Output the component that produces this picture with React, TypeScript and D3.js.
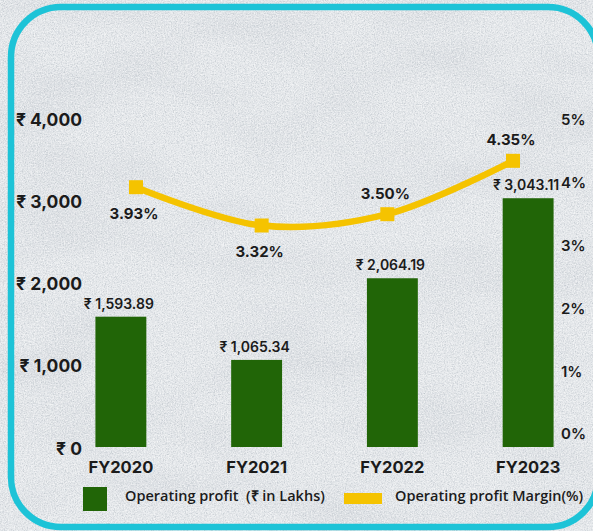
import * as React from 'react';
import * as d3 from 'd3';

const years = ['FY2020', 'FY2021', 'FY2022', 'FY2023'];
const profit = [1593.89, 1065.34, 2064.19, 3043.11];
const margin = [3.93, 3.32, 3.5, 4.35];
const marginLabelSide = ['below', 'below', 'above', 'above'];
const profitTicks = [0, 1000, 2000, 3000, 4000];
const marginTicks = [0, 1, 2, 3, 4, 5];
const legendLabels = ['Operating profit  (₹ in Lakhs)', 'Operating profit Margin(%)'];

const W = 593;
const H = 531;
const GREEN = '#216507';
const YELLOW = '#f5c300';
const CYAN = '#1dc3d7';
const INK = '#1b1b1b';
const FONT = 'Inter, "Noto Sans", sans-serif';

export default function App() {
  const y = d3.scaleLinear().domain([0, 4000]).range([447, 120]);
  const yR = d3.scaleLinear().domain([0, 5]).range([434, 120]);
  const xBand = d3
    .scaleBand<string>()
    .domain(years)
    .range([53, 596])
    .paddingInner(0.625)
    .paddingOuter(0.3125);
  const xLine = d3.scalePoint<string>().domain(years).range([136, 513]);

  const rupee = (v: number) => '₹ ' + d3.format(',')(v);
  const rupee2 = (v: number) => '₹ ' + d3.format(',.2f')(v);
  const pct = (v: number) => d3.format('.2f')(v) + '%';

  const linePath = d3
    .line<number>()
    .x((_, i) => xLine(years[i]) as number)
    .y((d) => yR(d))
    .curve(d3.curveCatmullRom.alpha(0.5))(margin) as string;

  const bw = xBand.bandwidth();

  return (
    <div style={{ position: 'absolute', left: 0, top: 0 }}>
      <svg width={W} height={H} style={{ display: 'block' }}>
        <defs>
          <filter id="specks" x="0" y="0" width="100%" height="100%">
            <feTurbulence type="fractalNoise" baseFrequency="0.9" numOctaves="3" seed="4" />
            <feColorMatrix
              type="matrix"
              values="0 0 0 0 0.52  0 0 0 0 0.56  0 0 0 0 0.60  1.8 0 0 0 -0.72"
            />
          </filter>
          <filter id="highlights" x="0" y="0" width="100%" height="100%">
            <feTurbulence type="fractalNoise" baseFrequency="0.7" numOctaves="2" seed="11" />
            <feColorMatrix
              type="matrix"
              values="0 0 0 0 1  0 0 0 0 1  0 0 0 0 1  2 0 0 0 -0.75"
            />
          </filter>
          <filter id="blotches" x="0" y="0" width="100%" height="100%">
            <feTurbulence type="fractalNoise" baseFrequency="0.008 0.02" numOctaves="2" seed="7" />
            <feColorMatrix
              type="matrix"
              values="0 0 0 0 0.6  0 0 0 0 0.63  0 0 0 0 0.67  1.2 0 0 0 -0.5"
            />
          </filter>
        </defs>

        {/* textured wall background */}
        <rect width={W} height={H} fill="#e5e8eb" />
        <rect width={W} height={H} filter="url(#blotches)" />
        <rect width={W} height={H} filter="url(#specks)" />
        <rect width={W} height={H} filter="url(#highlights)" opacity={0.7} />

        {/* frame */}
        <rect x={11} y={7} width={587} height={520} rx={50} fill="none" stroke={CYAN} strokeWidth={6.5} />

        {/* left axis */}
        <g fontFamily={FONT} fontWeight={700} fontSize={17.5} fill={INK} textAnchor="end">
          {profitTicks.map((t) => (
            <text key={t} x={82} y={y(t) + (t === 0 ? 2 : 0)} dy="0.36em">
              {rupee(t)}
            </text>
          ))}
        </g>

        {/* right axis */}
        <g fontFamily={FONT} fontWeight={600} fontSize={15} fill={INK} textAnchor="start">
          {marginTicks.map((t) => (
            <text key={t} x={561} y={yR(t)} dy="0.36em">
              {t + '%'}
            </text>
          ))}
        </g>

        {/* bars */}
        {profit.map((v, i) => (
          <g key={years[i]}>
            <rect x={xBand(years[i])} y={y(v)} width={bw} height={y(0) - y(v)} fill={GREEN} />
            <text
              x={(xBand(years[i]) as number) + bw / 2 - 2}
              y={y(v) - 13}
              dy="0.36em"
              textAnchor="middle"
              fontFamily={FONT}
              fontWeight={600}
              fontSize={14}
              fill={INK}
            >
              {rupee2(v)}
            </text>
          </g>
        ))}

        {/* category labels */}
        <g fontFamily={FONT} fontWeight={700} fontSize={16.5} fill={INK} textAnchor="middle">
          {years.map((yr) => (
            <text key={yr} x={(xBand(yr) as number) + bw / 2} y={467} dy="0.36em">
              {yr}
            </text>
          ))}
        </g>

        {/* margin line */}
        <path d={linePath} fill="none" stroke={YELLOW} strokeWidth={6.5} strokeLinecap="round" />
        {margin.map((m, i) => (
          <g key={'m' + i}>
            <rect
              x={(xLine(years[i]) as number) - 7}
              y={yR(m) - 7}
              width={14}
              height={14}
              fill={YELLOW}
            />
            <text
              x={(xLine(years[i]) as number) - 2}
              y={yR(m) + (marginLabelSide[i] === 'below' ? 26 : -21)}
              dy="0.36em"
              textAnchor="middle"
              fontFamily={FONT}
              fontWeight={700}
              fontSize={15}
              fill={INK}
            >
              {pct(m)}
            </text>
          </g>
        ))}

        {/* legend */}
        <g fontFamily='"Open Sans", sans-serif' fontWeight={600} fontSize={14.5} fill={INK}>
          <rect x={83} y={487} width={24} height={24} fill={GREEN} />
          <text x={125} y={496} dy="0.36em" xmlSpace="preserve" style={{ whiteSpace: 'pre' }}>
            {legendLabels[0]}
          </text>
          <rect x={344} y={493} width={38} height={11} fill={YELLOW} />
          <text x={395} y={496} dy="0.36em">
            {legendLabels[1]}
          </text>
        </g>
      </svg>
    </div>
  );
}
